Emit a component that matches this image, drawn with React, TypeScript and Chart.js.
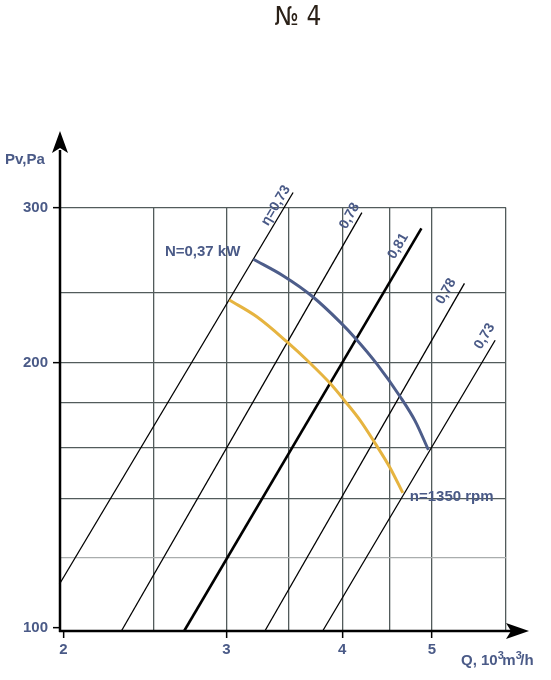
import React, { useEffect, useRef } from "react";
import { Chart, registerables, Plugin } from "chart.js";

Chart.register(...registerables);

const xGrid = [2, 2.5, 3, 3.5, 4, 4.5, 5, 6];
const xLabels = [2, 3, 4, 5];
const yGrid = [100, 120, 140, 160, 180, 200, 240, 300];
const yLabels = [100, 200, 300];

// fan curve, n = 1350 rpm
const curveQ = [3.021, 3.235, 3.485, 3.694, 3.881, 4.046, 4.182, 4.341, 4.506, 4.65];
const curvePv = [235.5, 225.4, 211.2, 199.6, 189.4, 179.7, 171.9, 161.9, 151.8, 142.2];

// power line N = 0,37 kW
const powerQ = [3.207, 3.456, 3.709, 3.979, 4.13, 4.359, 4.618, 4.794, 4.956];
const powerPv = [262.0, 250.8, 238.0, 222.3, 213.3, 199.3, 183.0, 171.7, 159.1];

// efficiency lines (start, end)
const etaNames = ["η=0,73", "0,78", "0,81", "0,78", "0,73"];
const etaQ = [
    [1.98, 3.54],
    [2.31, 4.2],
    [2.7, 4.87],
    [3.3, 5.42],
    [3.81, 5.85]
];
const etaPv = [
    [112, 312],
    [99.1, 296],
    [99.1, 284],
    [99.1, 246],
    [99.1, 212]
];

const TEXT = "#4a5a87";
const FONT = "'Liberation Sans', Arial, sans-serif";
// label offsets: back from line end, sideways to the left of it
const etaLabelOffsets = [
    [20, 8],
    [9, 9],
    [27, 11],
    [16, 12],
    [2, 11]
];

const toPoints = (xs: number[], ys: number[]) => xs.map((x, i) => ({ x, y: ys[i] }));

const overlayPlugin: Plugin<"scatter"> = {
    id: "overlay",
    afterDraw: (chart) => {
        const { ctx, chartArea, scales } = chart;
        const sx = scales.x;
        const sy = scales.y;
        const { left, bottom } = chartArea;
        ctx.save();

        // axes with arrows
        ctx.strokeStyle = "#000";
        ctx.fillStyle = "#000";
        ctx.lineWidth = 2.5;
        ctx.beginPath();
        ctx.moveTo(left, bottom + 1);
        ctx.lineTo(left, 150);
        ctx.moveTo(left - 1, bottom);
        ctx.lineTo(512, bottom);
        ctx.stroke();
        ctx.beginPath();
        ctx.moveTo(left, 131);
        ctx.lineTo(left - 8, 153);
        ctx.lineTo(left, 148);
        ctx.lineTo(left + 8, 153);
        ctx.closePath();
        ctx.fill();
        ctx.beginPath();
        ctx.moveTo(529, bottom);
        ctx.lineTo(506, bottom - 8);
        ctx.lineTo(511, bottom);
        ctx.lineTo(506, bottom + 8);
        ctx.closePath();
        ctx.fill();

        // title
        ctx.fillStyle = "#2b2118";
        ctx.font = "26px 'Liberation Sans Narrow', 'DejaVu Sans Condensed', sans-serif";
        ctx.textAlign = "center";
        ctx.textBaseline = "middle";
        ctx.fillText("№ 4", 298, 18);

        // axis titles
        ctx.fillStyle = TEXT;
        ctx.font = `bold 15px ${FONT}`;
        ctx.textAlign = "left";
        ctx.fillText("Pv,Pa", 5, 160);

        // Q, 10^3 m^3/h with raised exponents
        const parts: [string, boolean][] = [
            ["Q, 10", false],
            ["3", true],
            ["m", false],
            ["3", true],
            ["/h", false]
        ];
        let qx = 461;
        ctx.textBaseline = "alphabetic";
        parts.forEach(([t, sup]) => {
            ctx.font = sup ? `bold 11px ${FONT}` : `bold 15px ${FONT}`;
            ctx.fillText(t, qx, sup ? 659 : 665);
            qx += ctx.measureText(t).width - (sup ? 1.5 : 0);
        });
        ctx.textBaseline = "middle";

        // efficiency labels
        ctx.font = `bold 14px ${FONT}`;
        ctx.textAlign = "center";
        etaNames.forEach((name, i) => {
            const x0 = sx.getPixelForValue(etaQ[i][0]);
            const y0 = sy.getPixelForValue(etaPv[i][0]);
            const x1 = sx.getPixelForValue(etaQ[i][1]);
            const y1 = sy.getPixelForValue(etaPv[i][1]);
            const len = Math.hypot(x1 - x0, y1 - y0);
            const dx = (x1 - x0) / len;
            const dy = (y1 - y0) / len;
            const [back, side] = etaLabelOffsets[i];
            const cx = x1 - dx * back + dy * side;
            const cy = y1 - dy * back - dx * side;
            ctx.save();
            ctx.translate(cx, cy);
            ctx.rotate(Math.atan2(dy, dx));
            ctx.fillText(name, 0, 0);
            ctx.restore();
        });

        // curve labels
        ctx.font = `bold 15px ${FONT}`;
        ctx.textAlign = "right";
        ctx.fillText(
            "N=0,37 kW",
            sx.getPixelForValue(powerQ[0]) - 13,
            sy.getPixelForValue(powerPv[0]) - 7
        );
        ctx.textAlign = "left";
        const last = curveQ.length - 1;
        ctx.fillText(
            "n=1350 rpm",
            sx.getPixelForValue(curveQ[last]) + 7,
            sy.getPixelForValue(curvePv[last]) + 4
        );

        ctx.restore();
    }
};

export default function App() {
    const canvasRef = useRef<HTMLCanvasElement | null>(null);

    useEffect(() => {
        if (!canvasRef.current) return;

        const etaSets = etaNames.map((name, i) => ({
            label: name,
            data: toPoints(etaQ[i], etaPv[i]),
            borderColor: "#000",
            borderWidth: i === 2 ? 2.6 : 1.3,
            showLine: true,
            pointRadius: 0,
            clip: false as const
        }));

        const chart = new Chart(canvasRef.current, {
            type: "scatter",
            data: {
                datasets: [
                    {
                        label: "N=0,37 kW",
                        data: toPoints(powerQ, powerPv),
                        borderColor: "#4d5d8a",
                        borderWidth: 3,
                        showLine: true,
                        pointRadius: 0,
                        cubicInterpolationMode: "monotone"
                    },
                    {
                        label: "n=1350 rpm",
                        data: toPoints(curveQ, curvePv),
                        borderColor: "#e6b440",
                        borderWidth: 3,
                        showLine: true,
                        pointRadius: 0,
                        cubicInterpolationMode: "monotone"
                    },
                    ...etaSets
                ]
            },
            options: {
                responsive: false,
                animation: false,
                events: [],
                layout: { padding: { top: 207.5, right: 45, left: 0, bottom: 0 } },
                plugins: {
                    legend: { display: false },
                    tooltip: { enabled: false }
                },
                scales: {
                    x: {
                        type: "logarithmic",
                        min: 1.983,
                        max: 6.01,
                        afterBuildTicks: (s) => {
                            s.ticks = xGrid.map((v) => ({ value: v }));
                        },
                        afterFit: (s) => {
                            s.height = 49;
                        },
                        ticks: {
                            autoSkip: false,
                            maxRotation: 0,
                            padding: 3,
                            color: TEXT,
                            font: { family: FONT, weight: "bold", size: 15 },
                            callback: (v) => (xLabels.includes(Number(v)) ? String(v) : "")
                        },
                        grid: {
                            color: (c) => (c.tick && c.tick.value === 2 ? "transparent" : "#525b5b"),
                            lineWidth: 1.3,
                            tickLength: 7,
                            tickWidth: 1.5,
                            tickColor: (c) =>
                                c.tick && xLabels.includes(c.tick.value) ? "#000" : "transparent"
                        },
                        border: { display: false }
                    },
                    y: {
                        type: "logarithmic",
                        min: 99.1,
                        max: 300,
                        afterBuildTicks: (s) => {
                            s.ticks = yGrid.map((v) => ({ value: v }));
                        },
                        afterFit: (s) => {
                            s.width = 60;
                        },
                        ticks: {
                            autoSkip: false,
                            padding: 5,
                            color: TEXT,
                            font: { family: FONT, weight: "bold", size: 15 },
                            callback: (v) => (yLabels.includes(Number(v)) ? String(v) : "")
                        },
                        grid: {
                            color: (c) => {
                                if (!c.tick) return "#525b5b";
                                if (c.tick.value === 100) return "transparent";
                                if (c.tick.value === 120) return "#a9adad";
                                return "#525b5b";
                            },
                            lineWidth: 1.3,
                            tickLength: 7,
                            tickWidth: 1.5,
                            tickColor: (c) =>
                                c.tick && yLabels.includes(c.tick.value) ? "#000" : "transparent"
                        },
                        border: { display: false }
                    }
                }
            },
            plugins: [overlayPlugin]
        });

        return () => {
            chart.destroy();
        };
    }, []);

    return (
        <div style={{ position: "fixed", left: 0, top: 0, width: 551, height: 680, background: "#fff" }}>
            <canvas ref={canvasRef} width={551} height={680} style={{ width: 551, height: 680 }} />
        </div>
    );
}
